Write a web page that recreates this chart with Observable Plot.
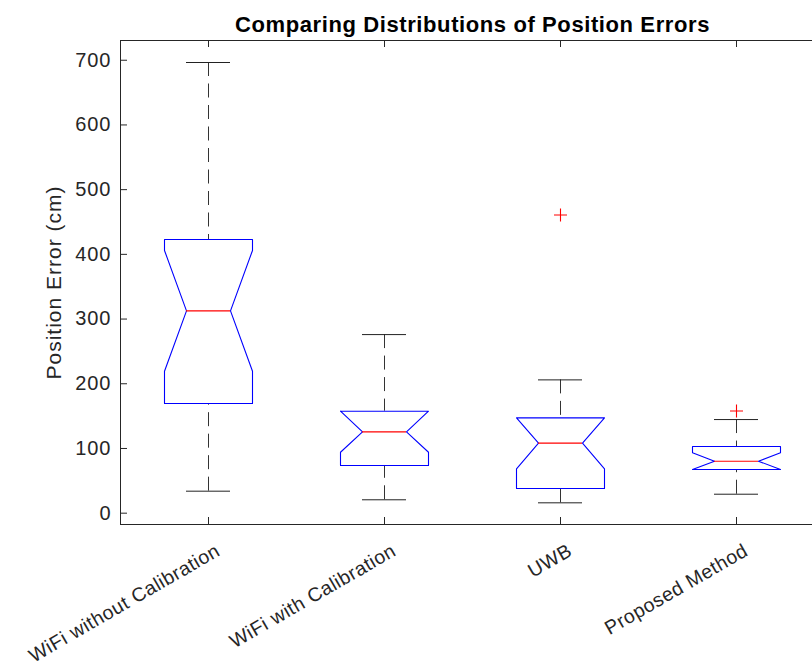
<!DOCTYPE html>
<html>
<head>
<meta charset="utf-8">
<script src="https://cdn.jsdelivr.net/npm/d3@7"></script>
<script src="https://cdn.jsdelivr.net/npm/@observablehq/plot@0.6"></script>
<style>
  html, body { margin: 0; padding: 0; background: #fff; }
</style>
</head>
<body>
<div id="chart"></div>
<script>
// ---- data ----
const categories = ["WiFi without Calibration", "WiFi with Calibration", "UWB", "Proposed Method"];
const q1         = [169.4, 73.7, 38.2, 67.5];
const median     = [312.6, 125.7, 108.2, 80.3];
const q3         = [423.0, 157.6, 147.3, 103.0];
const notchLow   = [219.3, 94.2, 68.6, 67.5];
const notchHigh  = [406.0, 157.6, 147.3, 93.3];
const whiskerLow = [34.0, 20.7, 16.0, 29.3];
const whiskerHigh= [696.5, 276.0, 206.0, 144.7];
const outlierCategory = ["UWB", "Proposed Method"];
const outlierValue    = [460.8, 158.0];
const yTicks = [0, 100, 200, 300, 400, 500, 600, 700];
const yDomain = [-17.5, 730.5];

const titleText = "Comparing Distributions of Position Errors";
const yLabel = "Position Error (cm)";

// ---- build tables ----
const boxes = categories.map((c, i) => ({
  cat: c, pos: i + 1,
  q1: q1[i], med: median[i], q3: q3[i],
  nLo: notchLow[i], nHi: notchHigh[i],
  wLo: whiskerLow[i], wHi: whiskerHigh[i]
}));
const HW = 0.25, NW = 0.125, CW = 0.125;
const outline = boxes.flatMap(b => [
  [b.pos - HW, b.q3], [b.pos + HW, b.q3], [b.pos + HW, b.nHi], [b.pos + NW, b.med],
  [b.pos + HW, b.nLo], [b.pos + HW, b.q1], [b.pos - HW, b.q1], [b.pos - HW, b.nLo],
  [b.pos - NW, b.med], [b.pos - HW, b.nHi], [b.pos - HW, b.q3]
].map(([x, y]) => ({k: b.cat, x, y})));
const outliers = outlierCategory.map((c, i) => ({pos: categories.indexOf(c) + 1, v: outlierValue[i]}));

const plusSymbol = {
  draw(context, size) {
    const r = Math.sqrt(size / Math.PI);
    context.moveTo(-r, 0); context.lineTo(r, 0);
    context.moveTo(0, -r); context.lineTo(0, r);
  }
};

const W = 812, H = 666, mT = 40, mB = 142, mL = 120;
const frameW = W - mL, frameH = H - mT - mB;
const axisColor = "#262626";

const chart = Plot.plot({
  width: W, height: H,
  marginTop: mT, marginBottom: mB, marginLeft: mL, marginRight: 0,
  style: {fontFamily: "'Liberation Sans', Arial, Helvetica, sans-serif", fontSize: "20px", background: "#fff", color: axisColor},
  x: {type: "linear", domain: [0.5, 4.5], range: [120, 824], axis: null},
  y: {domain: yDomain, axis: null},
  marks: [
    // axes lines
    Plot.ruleX([0.5], {stroke: axisColor, strokeWidth: 1}),
    Plot.ruleY([yDomain[0]], {stroke: axisColor, strokeWidth: 1}),
    Plot.ruleY([yDomain[1]], {stroke: axisColor, strokeWidth: 1}),
    // inward ticks
    Plot.tickY(yTicks, {y: d => d, insetRight: frameW - 7, stroke: axisColor}),
    Plot.tickX(boxes, {x: "pos", insetTop: frameH - 7, stroke: axisColor}),
    Plot.tickX(boxes, {x: "pos", insetBottom: frameH - 7, stroke: axisColor}),
    // y tick labels
    Plot.axisY(yTicks, {tickSize: 0, tickPadding: 9, fontSize: 20, color: axisColor}),
    // whiskers (dashed, start at the caps)
    Plot.ruleX(boxes, {x: "pos", y1: "wHi", y2: "q3", stroke: "#333", strokeDasharray: "14,7.5"}),
    Plot.ruleX(boxes, {x: "pos", y1: "wLo", y2: "q1", stroke: "#333", strokeDasharray: "14,7.5"}),
    // caps
    Plot.ruleY(boxes, {x1: d => d.pos - CW, x2: d => d.pos + CW, y: "wHi", stroke: "#222"}),
    Plot.ruleY(boxes, {x1: d => d.pos - CW, x2: d => d.pos + CW, y: "wLo", stroke: "#222"}),
    // notched boxes
    Plot.line(outline, {x: "x", y: "y", z: "k", stroke: "#0000ff", strokeWidth: 1.1}),
    // medians
    Plot.ruleY(boxes, {x1: d => d.pos - NW, x2: d => d.pos + NW, y: "med", stroke: "#ff0000", strokeWidth: 1.1}),
    // outliers
    Plot.dot(outliers, {x: "pos", y: "v", symbol: plusSymbol, r: 6.5, stroke: "#ff0000", fill: "none", strokeWidth: 1.1}),
    // x labels (rotated)
    Plot.text(boxes, {x: "pos", text: "cat", frameAnchor: "bottom", rotate: -30, textAnchor: "end", lineAnchor: "top", dx: 6, dy: 18, fontSize: 19.5, fill: axisColor}),
    // y label
    Plot.text([yLabel], {frameAnchor: "left", dx: -66, rotate: -90, fontSize: 21, fill: axisColor, textAnchor: "middle", lineAnchor: "middle"}),
    // title
    Plot.text([titleText], {x: () => 2.5, frameAnchor: "top", dy: -16, lineAnchor: "middle", fontSize: 22, fontWeight: "bold", fill: "#000"})
  ]
});

chart.querySelectorAll("text").forEach(t => {
  const s = t.textContent;
  if (s === titleText) t.setAttribute("letter-spacing", "0.6px");
  else if (categories.includes(s)) t.setAttribute("letter-spacing", "0.5px");
  else t.setAttribute("letter-spacing", "1px");
});
document.getElementById("chart").appendChild(chart);
</script>
</body>
</html>
